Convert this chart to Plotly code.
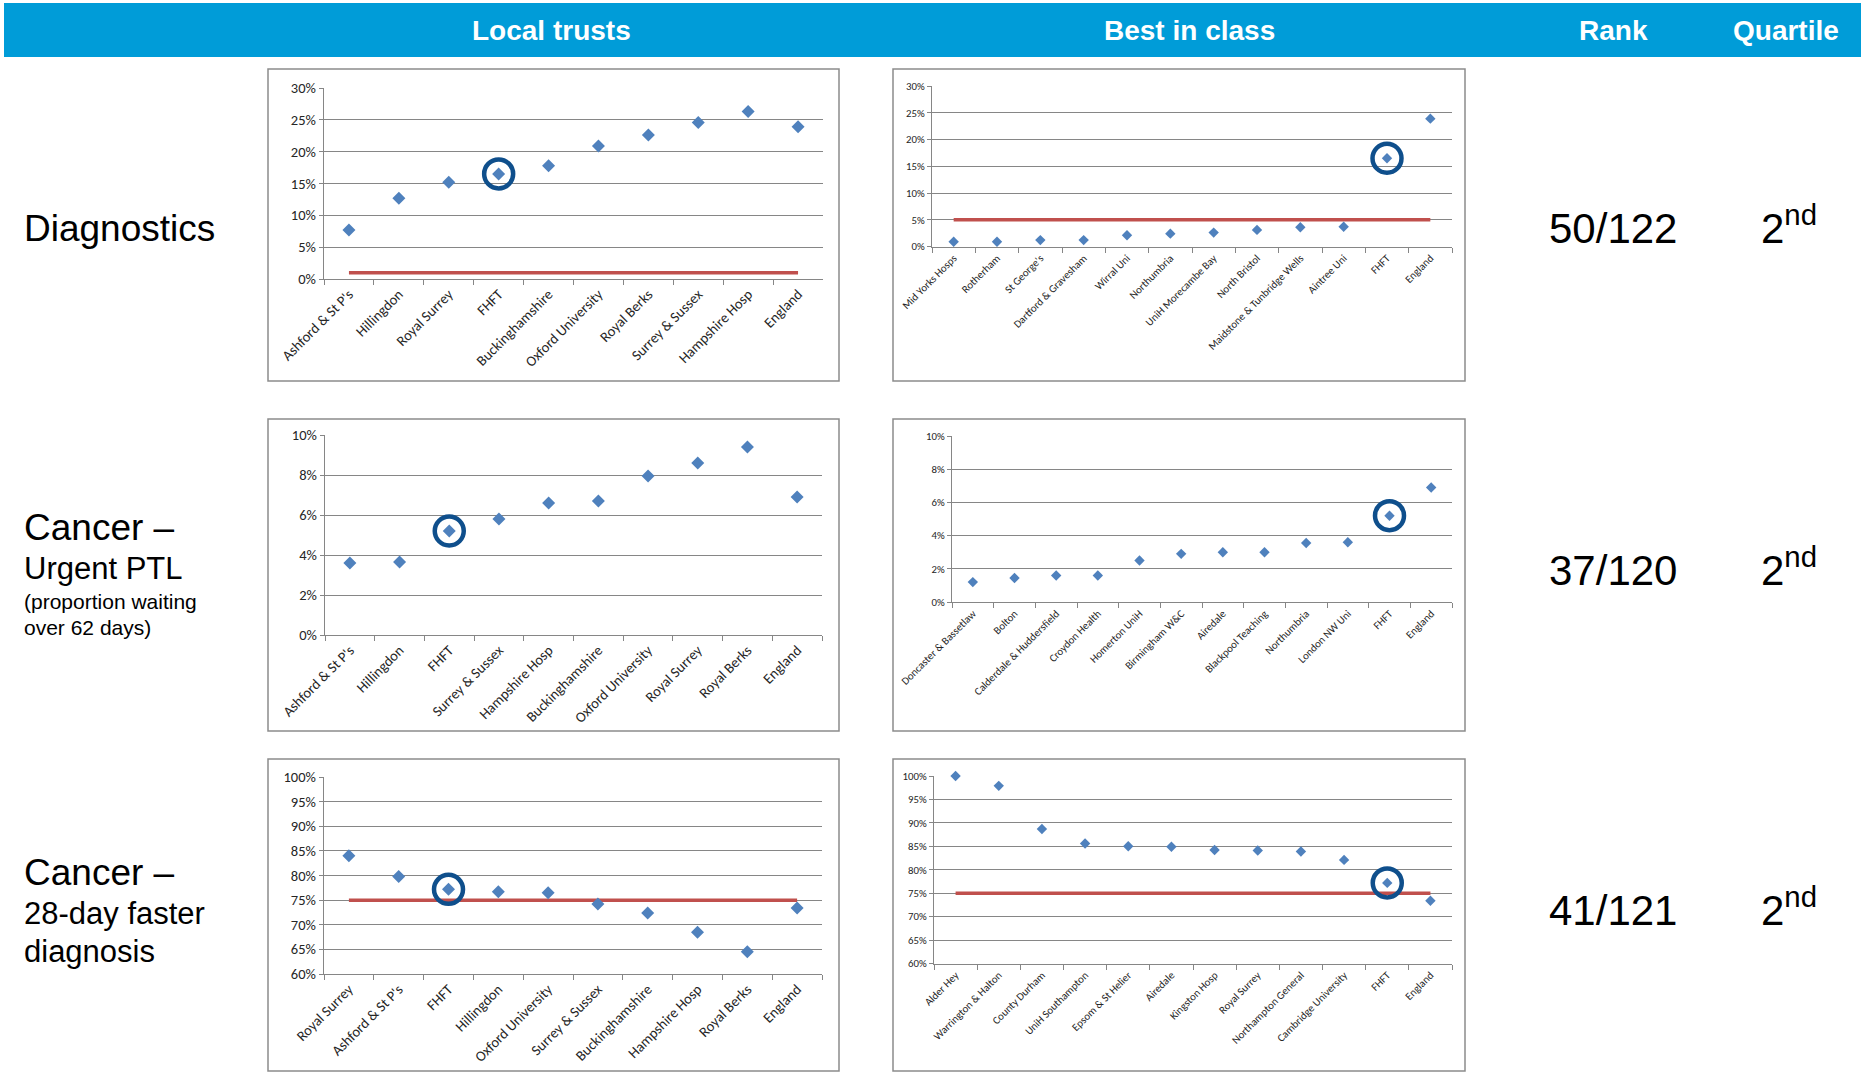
import plotly.graph_objects as go

W, H = 1865, 1074

# ---------------- data ----------------
diag_local_names = ["Ashford & St P's", "Hillingdon", "Royal Surrey", "FHFT", "Buckinghamshire",
                    "Oxford University", "Royal Berks", "Surrey & Sussex", "Hampshire Hosp", "England"]
diag_local_values = [7.7, 12.7, 15.2, 16.5, 17.8, 20.9, 22.6, 24.6, 26.3, 23.9]
diag_local_target = 1

diag_best_names = ["Mid Yorks Hosps", "Rotherham", "St George's", "Dartford & Gravesham", "Wirral Uni",
                   "Northumbria", "UniH Morecambe Bay", "North Bristol", "Maidstone & Tunbridge Wells",
                   "Aintree Uni", "FHFT", "England"]
diag_best_values = [0.9, 0.9, 1.2, 1.2, 2.1, 2.4, 2.6, 3.1, 3.6, 3.7, 16.5, 23.9]
diag_best_target = 5

ptl_local_names = ["Ashford & St P's", "Hillingdon", "FHFT", "Surrey & Sussex", "Hampshire Hosp",
                   "Buckinghamshire", "Oxford University", "Royal Surrey", "Royal Berks", "England"]
ptl_local_values = [3.6, 3.65, 5.2, 5.8, 6.6, 6.7, 7.95, 8.6, 9.4, 6.9]

ptl_best_names = ["Doncaster & Bassetlaw", "Bolton", "Calderdale & Huddersfield", "Croydon Health",
                  "Homerton UniH", "Birmingham W&C", "Airedale", "Blackpool Teaching", "Northumbria",
                  "London NW Uni", "FHFT", "England"]
ptl_best_values = [1.2, 1.45, 1.6, 1.6, 2.5, 2.9, 3.0, 3.0, 3.55, 3.6, 5.2, 6.9]

fdd_local_names = ["Royal Surrey", "Ashford & St P's", "FHFT", "Hillingdon", "Oxford University",
                   "Surrey & Sussex", "Buckinghamshire", "Hampshire Hosp", "Royal Berks", "England"]
fdd_local_values = [84.0, 79.8, 77.2, 76.7, 76.5, 74.2, 72.4, 68.5, 64.5, 73.4]
fdd_local_target = 75

fdd_best_names = ["Alder Hey", "Warrington & Halton", "County Durham", "UniH Southampton",
                  "Epsom & St Helier", "Airedale", "Kingston Hosp", "Royal Surrey",
                  "Northampton General", "Cambridge University", "FHFT", "England"]
fdd_best_values = [100, 97.9, 88.7, 85.6, 85.0, 84.9, 84.2, 84.1, 83.9, 82.1, 77.2, 73.4]
fdd_best_target = 75

header_labels = ["Local trusts", "Best in class", "Rank", "Quartile"]
ranks = ["50/122", "37/120", "41/121"]
quartiles = ["2<sup>nd</sup>", "2<sup>nd</sup>", "2<sup>nd</sup>"]

# ---------------- layout helpers ----------------
def dx(a, b):
    return [a / W, b / W]

def dy(top, bottom):
    return [1 - bottom / H, 1 - top / H]

BLUE = "#4F81BD"
RED = "#C0504D"
RING = "#0F4F8C"
GRID = "#868686"
HEAD = "#009CD8"
TXT = "#262626"
CHART_FONT = "Carlito, Lato, sans-serif"
SANS = "Liberation Sans, Arial, sans-serif"

panels = [
    # names, values, target, yrange, dtick, plot box (l, t, r, b), panel box, font size, marker size
    (diag_local_names, diag_local_values, diag_local_target, [0, 30], 5, (324, 88, 823, 279), (268, 69, 839, 381), 14.5, 10),
    (diag_best_names, diag_best_values, diag_best_target, [0, 30], 5, (932, 86, 1452, 246.5), (893, 69, 1465, 381), 10.8, 8),
    (ptl_local_names, ptl_local_values, None, [0, 10], 2, (325, 435, 822, 635), (268, 419, 839, 731), 14.5, 10),
    (ptl_best_names, ptl_best_values, None, [0, 10], 2, (952, 436, 1452, 602), (893, 419, 1465, 731), 10.8, 8),
    (fdd_local_names, fdd_local_values, fdd_local_target, [60, 100], 5, (324, 777, 822, 974), (268, 759, 839, 1071), 14.5, 10),
    (fdd_best_names, fdd_best_values, fdd_best_target, [60, 100], 5, (934, 776, 1452, 963.5), (893, 759, 1465, 1071), 10.8, 8),
]

fig = go.Figure()
shapes = []
layout = {}

# header bar
shapes.append(dict(type="rect", xref="paper", yref="paper", x0=4 / W, x1=1861 / W,
                   y0=1 - 57 / H, y1=1 - 3 / H, fillcolor=HEAD, line=dict(width=0), layer="below"))

for i, (names, vals, target, yr, dt, box, pbox, fs, ms) in enumerate(panels, start=1):
    sfx = "" if i == 1 else str(i)
    xa, ya = "x" + sfx, "y" + sfx
    l, t, r, b = box
    pl, pt, pr, pb = pbox
    shapes.append(dict(type="rect", xref="paper", yref="paper", x0=pl / W, x1=pr / W,
                       y0=1 - pb / H, y1=1 - pt / H, fillcolor="white",
                       line=dict(color="#8C8C8C", width=1.5), layer="below"))
    layout["xaxis" + sfx] = dict(domain=dx(l, r), anchor=ya, type="category",
                                 range=[-0.5, len(names) - 0.5], autorange=False,
                                 showgrid=False, showline=True, linecolor=GRID, linewidth=1.3,
                                 ticks="outside", tickson="boundaries", ticklen=5, tickcolor=GRID,
                                 tickwidth=1.2, tickangle=-45,
                                 tickfont=dict(family=CHART_FONT, size=fs, color=TXT),
                                 automargin=False, fixedrange=True)
    layout["yaxis" + sfx] = dict(domain=dy(t, b), anchor=xa, range=yr, autorange=False,
                                 dtick=dt, tick0=0,
                                 ticksuffix="%", showgrid=True, gridcolor=GRID, gridwidth=1.3,
                                 zeroline=False, showline=True, linecolor=GRID, linewidth=1.3,
                                 ticks="outside", ticklen=4, tickcolor=GRID, tickwidth=1.2,
                                 tickfont=dict(family=CHART_FONT, size=fs, color=TXT),
                                 automargin=False, fixedrange=True)
    if target is not None:
        fig.add_trace(go.Scatter(x=names, y=[target] * len(names), mode="lines",
                                 line=dict(color=RED, width=3.5), xaxis=xa, yaxis=ya,
                                 hoverinfo="skip", showlegend=False))
    fig.add_trace(go.Scatter(x=names, y=vals, mode="markers",
                             marker=dict(symbol="diamond", size=ms, color=BLUE),
                             xaxis=xa, yaxis=ya, cliponaxis=False, showlegend=False))
    k = names.index("FHFT")
    fig.add_trace(go.Scatter(x=[names[k]], y=[vals[k]], mode="markers",
                             marker=dict(symbol="circle-open", size=29, color=RING,
                                         line=dict(width=4.5, color=RING)),
                             xaxis=xa, yaxis=ya, cliponaxis=False, showlegend=False,
                             hoverinfo="skip"))

ann = []
# header labels
for lab, xc in zip(header_labels, [551, 1189, 1613, 1786]):
    ann.append(dict(text="<b>%s</b>" % lab, x=xc / W, y=1 - 31 / H, xref="paper", yref="paper",
                    xanchor="center", yanchor="middle", showarrow=False,
                    font=dict(family=SANS, size=28, color="white")))

# row labels
row_texts = [
    ("Diagnostics", 229, 37),
    ("Cancer \u2013", 527, 37),
    ("Urgent PTL", 568, 31),
    ("(proportion waiting", 601, 21),
    ("over 62 days)", 627, 21),
    ("Cancer \u2013", 872, 37),
    ("28-day faster", 913, 31),
    ("diagnosis", 951, 31),
]
for txt, yc, sz in row_texts:
    ann.append(dict(text=txt, x=22 / W, y=1 - yc / H, xref="paper", yref="paper",
                    xanchor="left", yanchor="middle", showarrow=False,
                    font=dict(family=SANS, size=sz, color="black")))

for rk, q, yc in zip(ranks, quartiles, [228, 570, 910]):
    ann.append(dict(text=rk, x=1613 / W, y=1 - yc / H, xref="paper", yref="paper",
                    xanchor="center", yanchor="middle", showarrow=False,
                    font=dict(family=SANS, size=42, color="black")))
    ann.append(dict(text=q, x=1759 / W, y=1 - (yc - 3) / H, xref="paper", yref="paper",
                    xanchor="left", yanchor="middle", showarrow=False,
                    font=dict(family=SANS, size=42, color="black")))

fig.update_layout(width=W, height=H, margin=dict(l=0, r=0, t=0, b=0), autosize=False,
                  paper_bgcolor="white", plot_bgcolor="rgba(0,0,0,0)",
                  shapes=shapes, annotations=ann, showlegend=False, **layout)

fig.write_html("out.html")
